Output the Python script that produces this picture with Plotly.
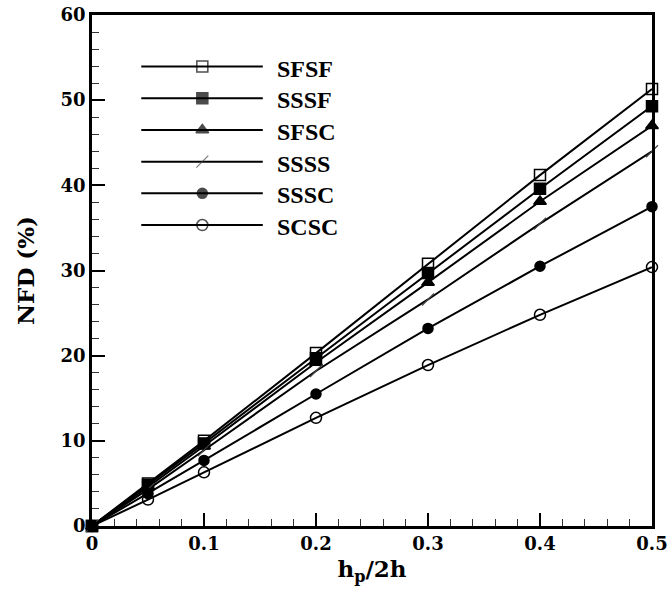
import plotly.graph_objects as go

x = [0, 0.05, 0.1, 0.2, 0.3, 0.4, 0.5]
names = ["SFSF", "SSSF", "SFSC", "SSSS", "SSSC", "SCSC"]
SFSF = [0, 5.0, 10.0, 20.3, 30.8, 41.2, 51.3]
SSSF = [0, 4.8, 9.7, 19.7, 29.7, 39.6, 49.3]
SFSC = [0, 4.6, 9.4, 19.2, 28.6, 38.1, 47.0]
SSSS = [0, 4.3, 8.9, 18.2, 26.6, 35.5, 44.0]
SSSC = [0, 3.8, 7.7, 15.5, 23.2, 30.5, 37.5]
SCSC = [0, 3.1, 6.3, 12.7, 18.9, 24.8, 30.4]
series = [SFSF, SSSF, SFSC, SSSS, SSSC, SCSC]
xticks = [0, 0.1, 0.2, 0.3, 0.4, 0.5]
xticktext = ["0", "0.1", "0.2", "0.3", "0.4", "0.5"]

symbols = ["square-open", "square", "triangle-up", "line-ne", "circle", "circle-open"]
sizes = [11, 11, 11, 12, 10, 11]


def mline(sym):
    if sym == "line-ne":
        return dict(color="#444", width=1.2)
    return dict(color="black", width=1.5)


fig = go.Figure()
for name, y, sym, sz in zip(names, series, symbols, sizes):
    fig.add_trace(go.Scatter(
        x=x, y=y, mode="lines+markers", name=name, showlegend=False,
        line=dict(color="black", width=2),
        marker=dict(symbol=sym, size=sz, color="black", line=mline(sym)),
        cliponaxis=False,
    ))

# manual legend on an overlay axis spanning the plot area (0..1)
lx0, lxm, lx1 = 0.088, 0.197, 0.305
ly0, ldy = 0.899, 0.062
for i, (name, sym, sz) in enumerate(zip(names, symbols, sizes)):
    yy = ly0 - i * ldy
    fig.add_trace(go.Scatter(
        x=[lx0, lxm, lx1], y=[yy, yy, yy], mode="lines+markers", showlegend=False,
        xaxis="x2", yaxis="y2",
        line=dict(color="black", width=2),
        marker=dict(symbol=sym, size=[0, sz, 0], color="black", line=mline(sym)),
        hoverinfo="skip",
    ))
    fig.add_annotation(x=0.327, y=yy - 0.004, xref="x2", yref="y2", text=name, showarrow=False,
                       xanchor="left", yanchor="middle",
                       font=dict(family="Liberation Serif", size=24, color="black", weight="bold"))

tickfont = dict(family="DejaVu Serif", size=18, color="black", weight="bold")
fig.update_layout(
    width=670, height=600,
    margin=dict(l=92, r=18, t=15, b=74),
    plot_bgcolor="white", paper_bgcolor="white",
    xaxis=dict(range=[0, 0.5], tickvals=xticks, ticktext=xticktext,
               ticks="inside", ticklen=13, tickwidth=2, tickcolor="black",
               minor=dict(dtick=0.02, ticks="inside", ticklen=7, tickwidth=1.2, tickcolor="#333"),
               showline=True, linewidth=2.5, linecolor="black", mirror=True,
               showgrid=False, zeroline=False, tickfont=tickfont, automargin=False,
               ticklabeloverflow="allow",
               title=dict(text="h<sub>p</sub>/2h", standoff=8,
                          font=dict(family="DejaVu Serif", size=23, color="black", weight="bold"))),
    yaxis=dict(range=[0, 60], dtick=10, ticks="inside", ticklen=13, tickwidth=2, tickcolor="black",
               minor=dict(dtick=2, ticks="inside", ticklen=7, tickwidth=1.2, tickcolor="#333"),
               showline=True, linewidth=2.5, linecolor="black", mirror=True,
               showgrid=False, zeroline=False, tickfont=tickfont, automargin=False,
               ticklabeloverflow="allow",
               title=dict(text="NFD (%)", standoff=20,
                          font=dict(family="DejaVu Serif", size=23, color="black", weight="bold"))),
    xaxis2=dict(range=[0, 1], overlaying="x", visible=False, fixedrange=True),
    yaxis2=dict(range=[0, 1], overlaying="y", visible=False, fixedrange=True),
)

# remove the browser's default 8px body margin so the figure sits at the page corner
fig.write_html("out.html", config={"displayModeBar": False},
               post_script="document.body.style.margin='0';")
